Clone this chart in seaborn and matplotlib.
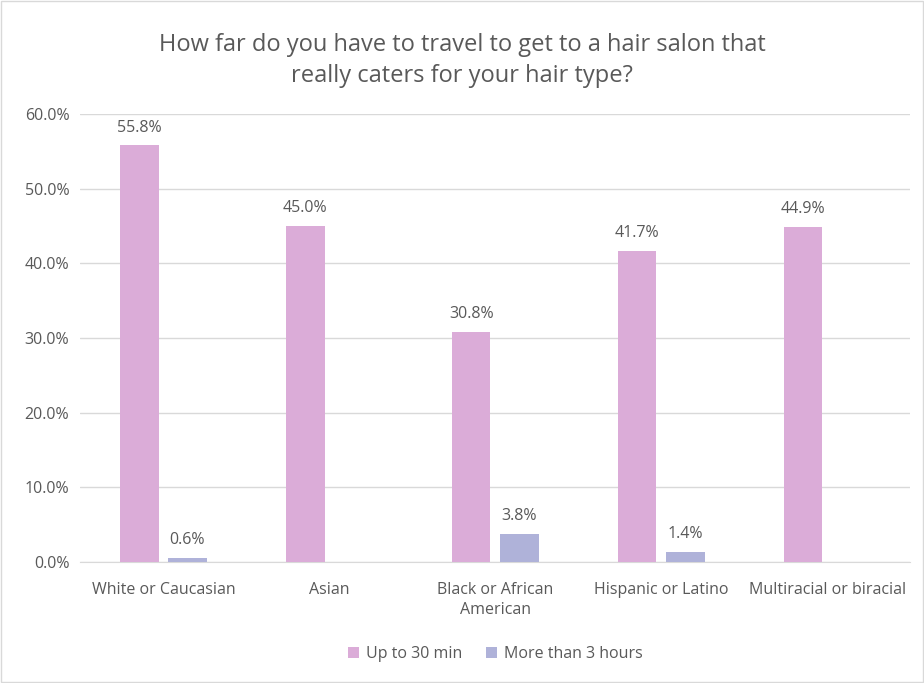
import numpy as np
import pandas as pd
import matplotlib
matplotlib.use("Agg")
import matplotlib.pyplot as plt
from matplotlib.ticker import PercentFormatter
import seaborn as sns

# data
categories = ["White or Caucasian", "Asian", "Black or African\nAmerican",
              "Hispanic or Latino", "Multiracial or biracial"]
up_to_30_min = [55.8, 45.0, 30.8, 41.7, 44.9]
more_than_3_hours = [0.6, np.nan, 3.8, 1.4, np.nan]
series_names = ["Up to 30 min", "More than 3 hours"]

df = pd.DataFrame({
    "category": categories * 2,
    "value": up_to_30_min + more_than_3_hours,
    "series": [series_names[0]] * len(categories) + [series_names[1]] * len(categories),
})

sns.set_style("white")
plt.rcParams["font.family"] = ["Open Sans", "DejaVu Sans"]
text_color = "#595959"

fig = plt.figure(figsize=(9.24, 6.83), dpi=100)
ax = fig.add_axes([0.087, 0.177, 0.898, 0.656])

sns.barplot(data=df, x="category", y="value", hue="series",
            order=categories, hue_order=series_names,
            palette=["#DBACD8", "#AFB2D9"], saturation=1, width=0.58, gap=0.2,
            linewidth=0, ax=ax, zorder=3)

for container in ax.containers:
    ax.bar_label(container, fmt="%.1f%%", padding=7, fontsize=11.5, color=text_color)

ax.set_ylim(0, 60)
ax.set_yticks(np.arange(0, 61, 10))
ax.yaxis.set_major_formatter(PercentFormatter(decimals=1))
ax.grid(axis="y", color="#D9D9D9", linewidth=1, zorder=0)
ax.set_xlabel("")
ax.set_ylabel("")
ax.tick_params(axis="both", length=0, labelsize=11.5, labelcolor=text_color, pad=8)
ax.tick_params(axis="x", pad=14)
for lbl in ax.get_xticklabels():
    lbl.set_linespacing(1.4)
for side in ["top", "right", "left"]:
    ax.spines[side].set_visible(False)
ax.spines["bottom"].set_color("#D9D9D9")

ax.legend(loc="center", bbox_to_anchor=(0.5, -0.205), ncol=2, frameon=False,
          fontsize=11.5, labelcolor=text_color, handlelength=0.7, handleheight=0.7,
          columnspacing=1.5, handletextpad=0.4)

fig.text(0.5, 0.912, "How far do you have to travel to get to a hair salon that\nreally caters for your hair type?",
         ha="center", va="center", fontsize=17, color=text_color, linespacing=1.4)

fig.patches.append(plt.Rectangle((0.001, 0.001), 0.998, 0.998, transform=fig.transFigure,
                                 fill=False, edgecolor="#D9D9D9", linewidth=1))

fig.savefig("out.png", dpi=100)
